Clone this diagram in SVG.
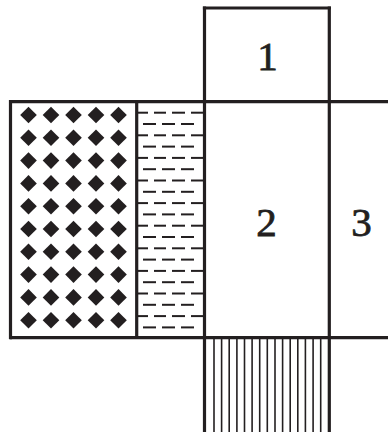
<svg xmlns="http://www.w3.org/2000/svg" width="388" height="432" viewBox="0 0 388 432">
<defs>
<style>
.b{fill:none;stroke:#231f20;stroke-width:3.2}
.h{stroke:#231f20;stroke-width:1.6}
.d{stroke:#231f20;stroke-width:2}
.t{font-family:"Liberation Serif","Times New Roman",serif;font-size:41px;fill:#231f20;stroke:#231f20;stroke-width:0.8;text-anchor:middle}
</style>
<path id="dm" d="M0,-8.3 L8.3,0 L0,8.3 L-8.3,0 Z" fill="#231f20"/>
<g id="dashA" class="d"><line x1="137" y1="0" x2="148" y2="0"/><line x1="154" y1="0" x2="166" y2="0"/><line x1="172" y1="0" x2="185" y2="0"/><line x1="191" y1="0" x2="204" y2="0"/></g>
<g id="dashB" class="d"><line x1="143" y1="0" x2="156" y2="0"/><line x1="162" y1="0" x2="175" y2="0"/><line x1="181" y1="0" x2="194" y2="0"/></g>
<g id="drow"><use href="#dm" x="28.5"/><use href="#dm" x="51"/><use href="#dm" x="73.5"/><use href="#dm" x="96"/><use href="#dm" x="118.5"/></g>
</defs>
<rect width="388" height="432" fill="#fff"/>
<g id="dotted">
<use href="#drow" y="115"/><use href="#drow" y="137.8"/><use href="#drow" y="160.6"/><use href="#drow" y="183.4"/><use href="#drow" y="206.2"/><use href="#drow" y="229"/><use href="#drow" y="251.8"/><use href="#drow" y="274.6"/><use href="#drow" y="297.4"/><use href="#drow" y="320.2"/>
</g>
<g id="dashed">
<use href="#dashA" y="112.7"/><use href="#dashB" y="124"/>
<use href="#dashA" y="135.3"/><use href="#dashB" y="146.6"/>
<use href="#dashA" y="157.9"/><use href="#dashB" y="169.2"/>
<use href="#dashA" y="180.5"/><use href="#dashB" y="191.8"/>
<use href="#dashA" y="203.1"/><use href="#dashB" y="214.4"/>
<use href="#dashA" y="225.7"/><use href="#dashB" y="237"/>
<use href="#dashA" y="248.3"/><use href="#dashB" y="259.6"/>
<use href="#dashA" y="270.9"/><use href="#dashB" y="282.2"/>
<use href="#dashA" y="293.5"/><use href="#dashB" y="304.8"/>
<use href="#dashA" y="316.1"/><use href="#dashB" y="327.4"/>
</g>
<g id="hatch" class="h">
<line x1="214" y1="338" x2="214" y2="432"/><line x1="221.6" y1="338" x2="221.6" y2="432"/><line x1="229.2" y1="338" x2="229.2" y2="432"/><line x1="236.9" y1="338" x2="236.9" y2="432"/><line x1="244.5" y1="338" x2="244.5" y2="432"/><line x1="252.1" y1="338" x2="252.1" y2="432"/><line x1="259.7" y1="338" x2="259.7" y2="432"/><line x1="267.3" y1="338" x2="267.3" y2="432"/><line x1="275" y1="338" x2="275" y2="432"/><line x1="282.6" y1="338" x2="282.6" y2="432"/><line x1="290.2" y1="338" x2="290.2" y2="432"/><line x1="297.8" y1="338" x2="297.8" y2="432"/><line x1="305.4" y1="338" x2="305.4" y2="432"/><line x1="313.1" y1="338" x2="313.1" y2="432"/><line x1="320.7" y1="338" x2="320.7" y2="432"/>
</g>
<g id="frame" class="b">
<line x1="10" y1="101.7" x2="388" y2="101.7"/>
<line x1="10" y1="337.7" x2="388" y2="337.7"/>
<line x1="10.5" y1="100.1" x2="10.5" y2="339.3"/>
<line x1="136.7" y1="101.7" x2="136.7" y2="337.7"/>
<line x1="204.5" y1="6.4" x2="204.5" y2="432"/>
<line x1="329.3" y1="6.4" x2="329.3" y2="432"/>
<line x1="202.9" y1="8" x2="330.9" y2="8"/>
</g>
<g id="n1"><text class="t" x="267.5" y="70">1</text></g>
<g id="n2"><text class="t" x="266.5" y="236">2</text></g>
<g id="n3"><text class="t" x="361.5" y="236">3</text></g>
</svg>
